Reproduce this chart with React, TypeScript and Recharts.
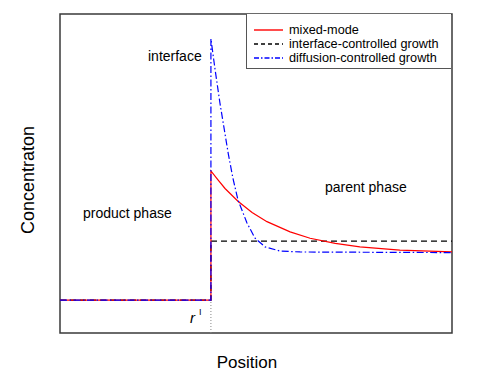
import React from 'react';
import { LineChart, Line, XAxis, YAxis, ReferenceArea, ReferenceLine, Customized } from 'recharts';

// positions along the profile (0-100) and concentration (0-100)
const interfaceX = 38.5;
const productLevel = 10.3;

const sharpX = [0, 38.5, 38.5, 100];
const sharpY = [10.3, 10.3, 28.8, 28.8];

const mixedX = [0, 38.5, 38.5, 40.3, 42.1, 45.4, 49.0, 52.8, 58.7, 63.8, 70.2, 76.5, 86.7, 100];
const mixedY = [10.3, 10.3, 50.8, 48.0, 45.3, 41.3, 37.8, 34.9, 31.7, 29.7, 28.1, 27.0, 26.0, 25.4];

const diffX = [0, 38.5, 38.5, 39.5, 40.8, 42.9, 44.1, 45.4, 47.7, 49.7, 52.3, 56.1, 61.2, 100];
const diffY = [10.3, 10.3, 92.2, 83.1, 72.1, 56.4, 48.6, 41.7, 34.5, 29.8, 27.0, 25.7, 25.4, 25.2];

const legendItems = [
  { name: 'mixed-mode', color: '#ff0000', dash: '' },
  { name: 'interface-controlled growth', color: '#000000', dash: '4 3' },
  { name: 'diffusion-controlled growth', color: '#0000ff', dash: '5 2 1.5 2' },
];

const toPoints = (xs: number[], ys: number[]) => xs.map((x, i) => ({ x, y: ys[i] }));

const FONT = '"Liberation Sans", Arial, sans-serif';

const Annotations = () => (
  <g fontFamily={FONT} fill="#000">
    <text x={148} y={61} fontSize={14}>interface</text>
    <text x={83} y={218} fontSize={14}>product phase</text>
    <text x={325} y={192} fontSize={14}>parent phase</text>
    <text x={190} y={323} fontSize={15} fontStyle="italic">r</text>
    <text x={199} y={315} fontSize={9}>I</text>
    <text x={247} y={368} fontSize={17} textAnchor="middle">Position</text>
    <text x={34} y={180} fontSize={18} textAnchor="middle" transform="rotate(-90 34 180)">Concentraton</text>
  </g>
);

const App: React.FC = () => {
  return (
    <div style={{ position: 'absolute', left: 0, top: 0, width: 483, height: 374, background: '#fff' }}>
      <LineChart width={483} height={374} margin={{ top: 14, right: 31, bottom: 41, left: 60 }}>
        <XAxis type="number" dataKey="x" domain={[0, 100]} hide allowDataOverflow />
        <YAxis type="number" dataKey="y" domain={[0, 100]} hide allowDataOverflow />
        <ReferenceLine
          segment={[{ x: interfaceX, y: 0 }, { x: interfaceX, y: productLevel }]}
          stroke="#888"
          strokeWidth={1}
          strokeDasharray="1 2"
        />
        <Line data={toPoints(sharpX, sharpY)} dataKey="y" type="linear" stroke="#000" strokeWidth={1.4}
          strokeDasharray="6 4" dot={false} isAnimationActive={false} />
        <Line data={toPoints(mixedX, mixedY)} dataKey="y" type="linear" stroke="#ff0000" strokeWidth={1.2}
          dot={false} isAnimationActive={false} />
        <Line data={toPoints(diffX, diffY)} dataKey="y" type="linear" stroke="#0000ff" strokeWidth={1.2}
          strokeDasharray="7 2.5 1.5 2.5" dot={false} isAnimationActive={false} />
        <ReferenceArea x1={0} x2={100} y1={0} y2={100} fill="none" stroke="#3a3a3a" strokeWidth={1.5} />
        <Customized component={Annotations} />
      </LineChart>

      {/* legend box in the top right corner */}
      <div style={{
        position: 'absolute', left: 246, top: 14, width: 205, height: 55,
        border: '1px solid #555', borderTop: 'none', borderRight: 'none', background: '#fff',
        fontFamily: FONT, fontSize: 12.7, boxSizing: 'border-box', paddingTop: 9,
      }}>
        {legendItems.map((item) => (
          <div key={item.name} style={{ display: 'flex', alignItems: 'center', height: 14, lineHeight: '14px' }}>
            <svg width={42} height={14} style={{ flex: 'none' }}>
              <line x1={7} y1={7} x2={36} y2={7} stroke={item.color} strokeWidth={1.4}
                strokeDasharray={item.dash || undefined} />
            </svg>
            <span style={{ whiteSpace: 'nowrap' }}>{item.name}</span>
          </div>
        ))}
      </div>
    </div>
  );
};

export default App;
